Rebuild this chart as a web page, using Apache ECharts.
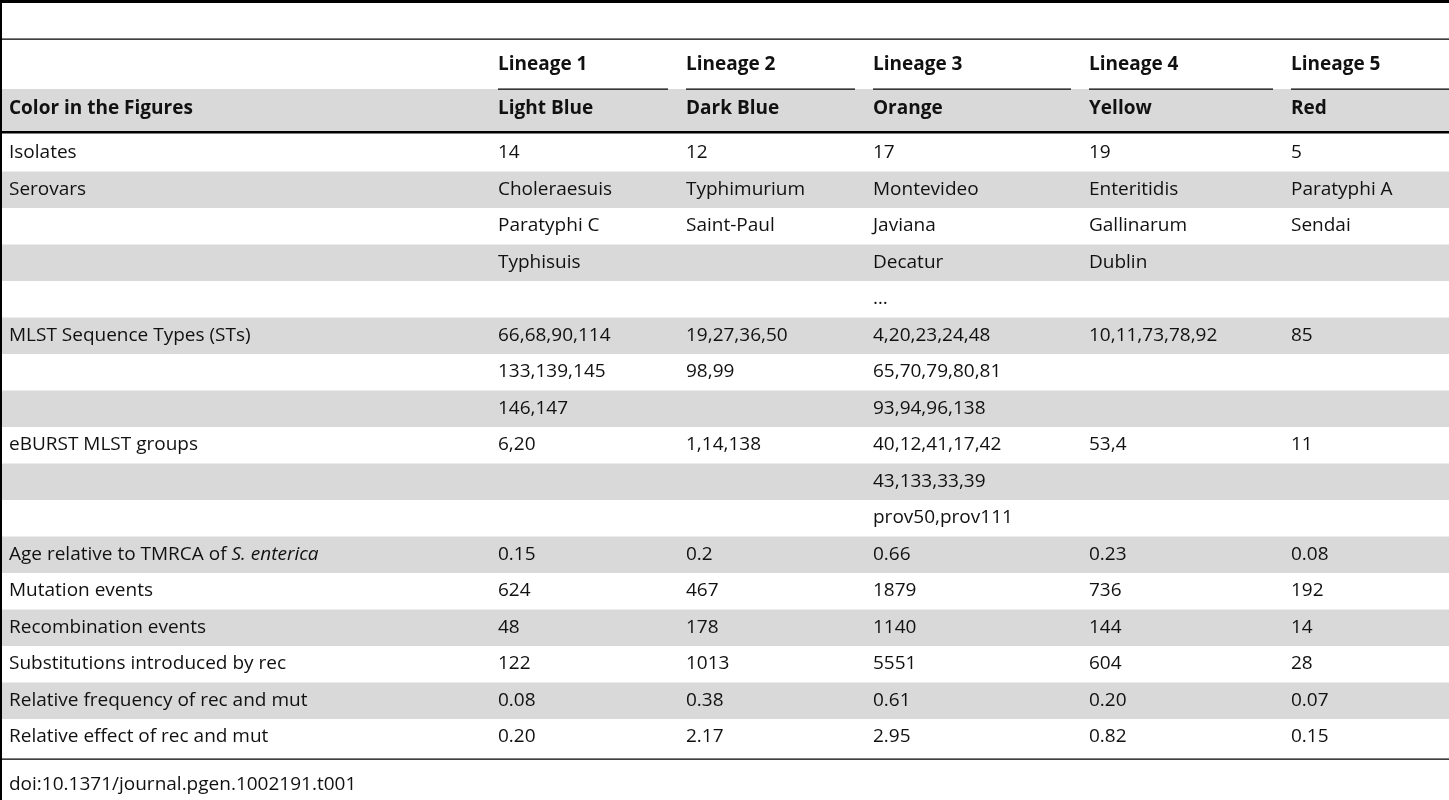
<!DOCTYPE html>
<html><head><meta charset="utf-8">
<script src="https://cdn.jsdelivr.net/npm/echarts@6/dist/echarts.min.js"></script>
<style>html,body{margin:0;padding:0;background:#fff}#c{width:1449px;height:800px}</style>
</head><body><div id="c"></div>
<script>
var lineages = ['Lineage 1','Lineage 2','Lineage 3','Lineage 4','Lineage 5'];
var colorNames = ['Light Blue','Dark Blue','Orange','Yellow','Red'];
var rowLabels = ['Isolates','Serovars','','','','MLST Sequence Types (STs)','','','eBURST MLST groups','','','Age relative to TMRCA of {i|S. enterica}','Mutation events','Recombination events','Substitutions introduced by rec','Relative frequency of rec and mut','Relative effect of rec and mut'];
var lineage1 = ['14','Choleraesuis','Paratyphi C','Typhisuis','','66,68,90,114','133,139,145','146,147','6,20','','','0.15','624','48','122','0.08','0.20'];
var lineage2 = ['12','Typhimurium','Saint-Paul','','','19,27,36,50','98,99','','1,14,138','','','0.2','467','178','1013','0.38','2.17'];
var lineage3 = ['17','Montevideo','Javiana','Decatur','…','4,20,23,24,48','65,70,79,80,81','93,94,96,138','40,12,41,17,42','43,133,33,39','prov50,prov111','0.66','1879','1140','5551','0.61','2.95'];
var lineage4 = ['19','Enteritidis','Gallinarum','Dublin','','10,11,73,78,92','','','53,4','','','0.23','736','144','604','0.20','0.82'];
var lineage5 = ['5','Paratyphi A','Sendai','','','85','','','11','','','0.08','192','14','28','0.07','0.15'];
var footnote = 'doi:10.1371/journal.pgen.1002191.t001';

var colX = [9, 498, 686, 873, 1089, 1291];
var colEnd = [0, 668, 855, 1071, 1273, 1449];
var FONT = '"Open Sans", sans-serif';
var FS = 19;
var cols = [lineage1, lineage2, lineage3, lineage4, lineage5];
var rowData = rowLabels.map(function (l, i) { return [i]; });

function txt(p, s, bold) {
  return { type: 'text', style: { x: p[0], y: p[1], text: s, fill: '#111', font: (bold ? 'bold ' : '') + FS + 'px ' + FONT, verticalAlign: 'middle', rich: { i: { fontStyle: 'italic', fontSize: FS, fontFamily: 'Open Sans', fill: '#111' } } } };
}
function rect(api, x0, y0, x1, y1, color) {
  var a = api.coord([x0, y0]), b = api.coord([x1, y1]);
  return { type: 'rect', shape: { x: a[0], y: a[1], width: b[0] - a[0], height: b[1] - a[1] }, style: { fill: color } };
}

var chart = echarts.init(document.getElementById('c'));
chart.setOption({
  animation: false,
  grid: { left: 0, right: 0, top: 0, bottom: 0 },
  xAxis: { type: 'value', min: 0, max: 1449, show: false },
  yAxis: { type: 'value', min: 0, max: 800, inverse: true, show: false },
  series: [
    { type: 'custom', data: [[0]], renderItem: function (params, api) {
        var ch = [];
        ch.push(rect(api, 0, 89, 1449, 131, '#d9d9d9'));
        ch.push(rect(api, 0, 0, 1449, 3, '#000'));
        ch.push(rect(api, 0, 38.5, 1449, 39.7, '#000'));
        ch.push(rect(api, 0, 131, 1449, 133.5, '#000'));
        ch.push(rect(api, 0, 758.5, 1449, 759.7, '#000'));
        ch.push(rect(api, 0, 0, 2, 800, '#000'));
        ch.push(txt(api.coord([colX[0], 109]), 'Color in the Figures', true));
        for (var k = 0; k < 5; k++) {
          ch.push(txt(api.coord([colX[k + 1], 65]), lineages[k], true));
          ch.push(rect(api, colX[k + 1], 88.5, colEnd[k + 1], 89.7, '#000'));
          ch.push(txt(api.coord([colX[k + 1], 109]), colorNames[k], true));
        }
        ch.push(txt(api.coord([colX[0], 785]), footnote, false));
        return { type: 'group', children: ch };
    } },
    { type: 'custom', data: rowData, renderItem: function (params, api) {
        var i = api.value(0), cy = 153 + i * 36.5, ch = [];
        if (i % 2 === 1) ch.push(rect(api, 2, cy - 18, 1449, cy + 18.5, '#d9d9d9'));
        ch.push(txt(api.coord([colX[0], cy]), rowLabels[i], false));
        for (var k = 0; k < 5; k++) ch.push(txt(api.coord([colX[k + 1], cy]), cols[k][i], false));
        return { type: 'group', children: ch };
    } }
  ]
});
</script></body></html>
